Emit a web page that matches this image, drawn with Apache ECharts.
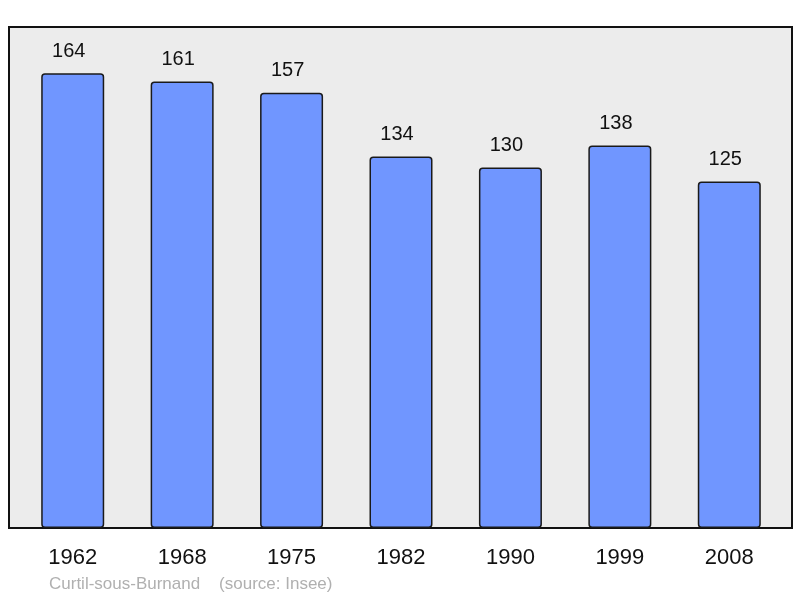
<!DOCTYPE html>
<html>
<head>
<meta charset="utf-8">
<script src="https://cdn.jsdelivr.net/npm/echarts@6/dist/echarts.min.js"></script>
<style>
  html, body { margin: 0; padding: 0; background: #fff; }
  #chart { width: 800px; height: 598px; }
</style>
</head>
<body>
<div id="chart"></div>
<script>
  var years = ['1962', '1968', '1975', '1982', '1990', '1999', '2008'];
  var population = [164, 161, 157, 134, 130, 138, 125];

  var chart = echarts.init(document.getElementById('chart'));
  chart.setOption({
    animation: false,
    grid: [
      // background frame
      { left: 9, right: 8, top: 27, bottom: 70, show: true,
        backgroundColor: '#ececec', borderColor: '#111', borderWidth: 2 },
      // bars
      { left: 18, right: 16, top: 27, bottom: 70 }
    ],
    xAxis: [
      { gridIndex: 0, type: 'value', show: false },
      {
        gridIndex: 1,
        type: 'category',
        data: years,
        axisLine: { show: false },
        axisTick: { show: false },
        axisLabel: { fontSize: 22, color: '#111', margin: 19, fontFamily: 'Liberation Sans' }
      }
    ],
    yAxis: [
      { gridIndex: 0, type: 'value', show: false },
      { gridIndex: 1, type: 'value', min: 0, max: 180.7, show: false }
    ],
    series: [
      {
        type: 'bar',
        xAxisIndex: 1,
        yAxisIndex: 1,
        data: population,
        barWidth: 63,
        itemStyle: {
          color: '#7096ff',
          borderColor: '#1a1a1a',
          borderWidth: 1.5,
          borderRadius: 3
        },
        label: {
          show: true,
          position: 'top',
          distance: 12,
          offset: [-4, 0],
          fontSize: 20,
          color: '#111',
          fontFamily: 'Liberation Sans'
        }
      }
    ],
    graphic: [
      {
        type: 'text',
        left: 49,
        top: 576,
        style: {
          text: 'Curtil-sous-Burnand    (source: Insee)',
          fill: '#b0b0b0',
          font: '17px "Liberation Sans"'
        }
      }
    ]
  });
</script>
</body>
</html>
